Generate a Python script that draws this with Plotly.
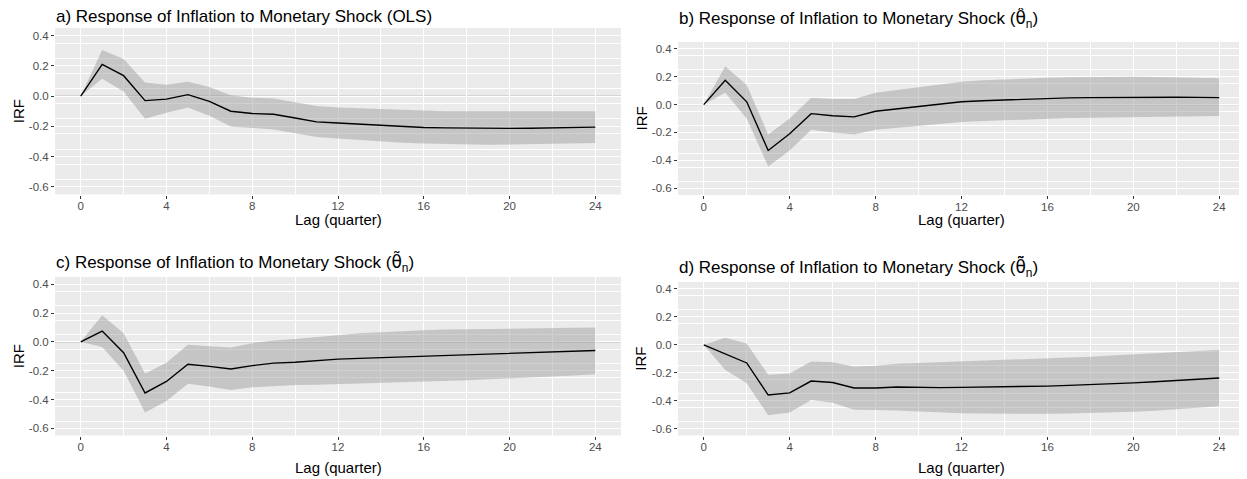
import plotly.graph_objects as go

lags = list(range(25))

irf_a = [0.0, 0.21, 0.135, -0.03, -0.02, 0.01, -0.035, -0.10, -0.115, -0.12, -0.145, -0.17, -0.178,
         -0.185, -0.195, -0.202, -0.207, -0.21, -0.212, -0.213, -0.213, -0.212, -0.21, -0.208, -0.205]
hi_a = [0.0, 0.305, 0.245, 0.09, 0.075, 0.095, 0.06, 0.005, -0.01, -0.015, -0.04, -0.065, -0.075,
        -0.08, -0.088, -0.093, -0.097, -0.1, -0.1, -0.1, -0.1, -0.1, -0.1, -0.1, -0.1]
lo_a = [0.0, 0.115, 0.03, -0.15, -0.11, -0.075, -0.13, -0.2, -0.21, -0.22, -0.245, -0.27, -0.28,
        -0.29, -0.3, -0.308, -0.313, -0.317, -0.32, -0.322, -0.32, -0.318, -0.316, -0.313, -0.31]

irf_b = [0.0, 0.175, 0.02, -0.33, -0.21, -0.065, -0.08, -0.088, -0.048, -0.03, -0.015, 0.005, 0.02,
         0.028, 0.034, 0.04, 0.045, 0.048, 0.05, 0.052, 0.053, 0.053, 0.053, 0.052, 0.05]
hi_b = [0.0, 0.275, 0.14, -0.215, -0.1, 0.05, 0.04, 0.04, 0.085, 0.105, 0.12, 0.145, 0.165,
        0.175, 0.182, 0.188, 0.193, 0.196, 0.198, 0.2, 0.2, 0.198, 0.196, 0.193, 0.19]
lo_b = [0.0, 0.085, -0.1, -0.445, -0.33, -0.18, -0.2, -0.215, -0.18, -0.165, -0.155, -0.14, -0.125,
        -0.118, -0.112, -0.105, -0.1, -0.097, -0.095, -0.093, -0.09, -0.088, -0.086, -0.084, -0.082]

irf_c = [0.0, 0.075, -0.075, -0.355, -0.275, -0.155, -0.17, -0.188, -0.165, -0.148, -0.142, -0.13, -0.12,
         -0.115, -0.11, -0.103, -0.097, -0.092, -0.088, -0.083, -0.078, -0.073, -0.068, -0.064, -0.06]
hi_c = [0.0, 0.185, 0.06, -0.22, -0.145, -0.02, -0.03, -0.04, -0.01, 0.01, 0.02, 0.035, 0.05,
        0.06, 0.067, 0.075, 0.08, 0.085, 0.088, 0.09, 0.093, 0.095, 0.097, 0.098, 0.1]
lo_c = [0.0, -0.035, -0.2, -0.49, -0.41, -0.29, -0.31, -0.335, -0.315, -0.305, -0.3, -0.297, -0.293,
        -0.29, -0.286, -0.282, -0.278, -0.272, -0.266, -0.26, -0.255, -0.248, -0.24, -0.233, -0.225]

irf_d = [0.0, -0.065, -0.13, -0.36, -0.345, -0.26, -0.27, -0.31, -0.31, -0.302, -0.305, -0.307, -0.305,
         -0.304, -0.303, -0.3, -0.296, -0.291, -0.286, -0.28, -0.273, -0.265, -0.257, -0.248, -0.238]
hi_d = [0.0, 0.05, 0.01, -0.215, -0.205, -0.12, -0.125, -0.155, -0.15, -0.135, -0.13, -0.125, -0.118,
        -0.113, -0.108, -0.103, -0.098, -0.092, -0.085, -0.077, -0.068, -0.06, -0.052, -0.045, -0.038]
lo_d = [0.0, -0.18, -0.275, -0.505, -0.485, -0.395, -0.415, -0.465, -0.468, -0.47, -0.478, -0.485, -0.49,
        -0.492, -0.494, -0.495, -0.495, -0.493, -0.49, -0.485, -0.48, -0.472, -0.463, -0.452, -0.44]

TH = '<span style="font-family:DejaVu Sans">'
titles = [
    "a) Response of Inflation to Monetary Shock (OLS)",
    "b) Response of Inflation to Monetary Shock (" + TH + "\u03b8\u0302</span><sub>n</sub>)",
    "c) Response of Inflation to Monetary Shock (" + TH + "\u03b8\u0303</span><sub>n</sub>)",
    "d) Response of Inflation to Monetary Shock (" + TH + "\u03b8\u0303\u0303</span><sub>n</sub>)",
]
x_ticks = [0, 4, 8, 12, 16, 20, 24]
y_ticks = [-0.6, -0.4, -0.2, 0.0, 0.2, 0.4]
y_tick_labels = ["-0.6", "-0.4", "-0.2", "0.0", "0.2", "0.4"]
x_title = "Lag (quarter)"
y_title = "IRF"

# the page body adds an 8px margin; the figure is sized and positioned to compensate
OFF = 8
W, H = 1247 - OFF, 479 - OFF


def px(x):
    return (x - OFF) / W


def py(y):
    return 1 - (y - OFF) / H


# panel boxes in window pixels: left, right, top, bottom
panels = [
    (55, 621, 28, 194.5),
    (678, 1245, 42, 195),
    (55, 621, 277, 435.5),
    (678, 1245, 282, 435.5),
]
title_y = [17, 19, 263, 268]
xtitle_y = [219, 219, 467, 467]

series = [(irf_a, lo_a, hi_a), (irf_b, lo_b, hi_b), (irf_c, lo_c, hi_c), (irf_d, lo_d, hi_d)]

FONT = "Liberation Sans, Arial, Helvetica, sans-serif"
fig = go.Figure()
annotations = []
shapes = []

for i, ((irf, lo, hi), (l, r, t, b)) in enumerate(zip(series, panels)):
    n = "" if i == 0 else str(i + 1)
    xa, ya = "x" + n, "y" + n
    fig.add_trace(go.Scatter(x=lags, y=lo, xaxis=xa, yaxis=ya, mode="lines",
                             line=dict(width=0, color="rgba(0,0,0,0)"), showlegend=False, hoverinfo="skip"))
    fig.add_trace(go.Scatter(x=lags, y=hi, xaxis=xa, yaxis=ya, mode="lines", fill="tonexty",
                             fillcolor="rgba(150,150,150,0.45)",
                             line=dict(width=0, color="rgba(0,0,0,0)"), showlegend=False, hoverinfo="skip"))
    fig.add_trace(go.Scatter(x=lags, y=irf, xaxis=xa, yaxis=ya, mode="lines",
                             line=dict(color="black", width=1.4), showlegend=False))

    axcommon = dict(
        showgrid=True, gridcolor="white", gridwidth=1.1, zeroline=False, showline=False,
        ticks="outside", ticklen=3, tickcolor="#333333", tickwidth=1,
        tickfont=dict(family=FONT, size=11.5, color="#4D4D4D"),
    )
    fig.layout["xaxis" + n] = dict(
        axcommon, domain=[px(l), px(r)], range=[-1.2, 25.2], anchor=ya, ticklabelstandoff=-2,
        tickmode="array", tickvals=x_ticks, ticktext=[str(v) for v in x_ticks],
        minor=dict(dtick=2, tick0=0, showgrid=True, gridcolor="white", gridwidth=0.5, ticks=""),
    )
    fig.layout["yaxis" + n] = dict(
        axcommon, domain=[py(b), py(t)], range=[-0.65, 0.45], anchor=xa,
        tickmode="array", tickvals=y_ticks, ticktext=y_tick_labels,
        minor=dict(dtick=0.1, tick0=0.05, showgrid=True, gridcolor="white", gridwidth=0.5, ticks=""),
    )
    shapes.append(dict(type="line", xref=xa + " domain", yref=ya, x0=0, x1=1, y0=0, y1=0,
                       line=dict(color="#BEBEBE", width=1.1), layer="below"))

    annotations.append(dict(text=titles[i], xref="paper", yref="paper", x=px(l), y=py(title_y[i]),
                            xanchor="left", yanchor="middle", showarrow=False, borderpad=0,
                            font=dict(family=FONT, size=17, color="black")))
    annotations.append(dict(text=x_title, xref="paper", yref="paper", x=px((l + r) / 2),
                            y=py(xtitle_y[i]), xanchor="center", yanchor="middle", showarrow=False,
                            borderpad=0, font=dict(family=FONT, size=15, color="black")))
    annotations.append(dict(text=y_title, xref="paper", yref="paper", x=px(l - 37),
                            y=py((t + b) / 2), xanchor="center", yanchor="middle", showarrow=False,
                            borderpad=0, textangle=-90, font=dict(family=FONT, size=15, color="black")))

fig.update_layout(
    width=W, height=H, margin=dict(l=0, r=0, t=0, b=0),
    paper_bgcolor="white", plot_bgcolor="#EBEBEB",
    annotations=annotations, shapes=shapes, showlegend=False,
)

fig.write_html("out.html")
